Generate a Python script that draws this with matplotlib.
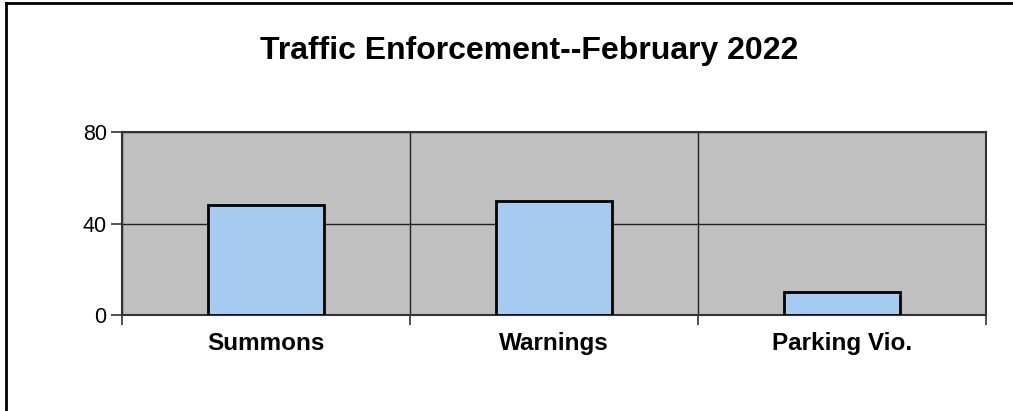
import matplotlib
matplotlib.use("Agg")
import matplotlib.pyplot as plt
from matplotlib.lines import Line2D

# data
categories = ['Summons', 'Warnings', 'Parking Vio.']
counts = [48, 50, 10]
yticks = [0, 40, 80]

plt.rcParams['font.family'] = ['Liberation Sans', 'DejaVu Sans']

fig = plt.figure(figsize=(10.13, 4.11), dpi=100)
ax = fig.add_axes([0.1204, 0.2336, 0.8529, 0.4452])
ax.set_facecolor('#c0c0c0')

x = list(range(len(categories)))
ax.bar(x, counts, width=0.4, color='#a6caf0', edgecolor='black', linewidth=2, zorder=3)

ax.set_xlim(-0.5, len(categories) - 0.5)
ax.set_ylim(0, 80)
ax.set_yticks(yticks)
ax.set_yticklabels([str(v) for v in yticks], fontsize=15.5)

# category boundaries: ticks + vertical grid lines
bounds = [i - 0.5 for i in range(len(categories) + 1)]
ax.set_xticks(bounds)
ax.set_xticklabels([''] * len(bounds))
ax.set_xticks(x, minor=True)
ax.set_xticklabels(categories, minor=True, fontsize=17.5, fontweight='bold')
ax.tick_params(axis='x', which='minor', length=0, pad=12)
ax.tick_params(axis='x', which='major', length=7, width=1.2, color='#333333')
ax.tick_params(axis='y', length=8, width=1.2, color='#333333', pad=3)

ax.grid(True, axis='both', which='major', color='#222222', linewidth=1, zorder=1)
ax.set_axisbelow(True)
for s in ax.spines.values():
    s.set_color('#333333')
    s.set_linewidth(1.5)

fig.text(0.522, 0.877, 'Traffic Enforcement--February 2022', ha='center', va='center',
         fontsize=23, fontweight='bold')

# outer border (left and top visible)
fig.add_artist(Line2D([0.006, 0.006], [0, 0.993], transform=fig.transFigure, color='black', linewidth=2))
fig.add_artist(Line2D([0.006, 1.0], [0.993, 0.993], transform=fig.transFigure, color='black', linewidth=2))

fig.savefig('out.png', dpi=100)
